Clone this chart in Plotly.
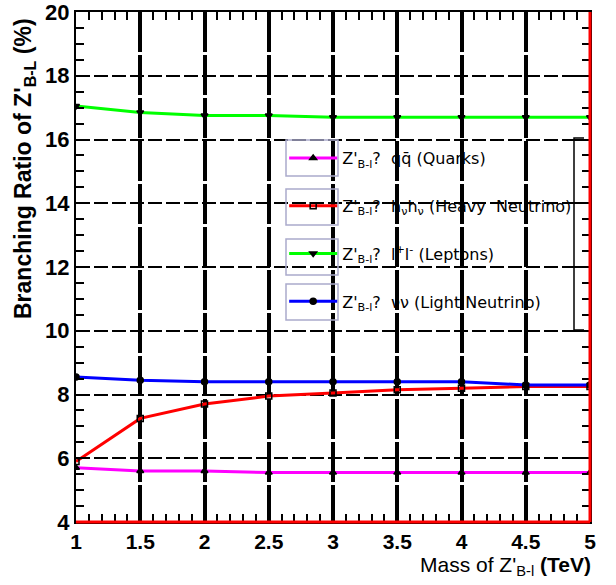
import plotly.graph_objects as go

mass = [1.0, 1.5, 2.0, 2.5, 3.0, 3.5, 4.0, 4.5, 5.0]
br_quarks = [5.7, 5.6, 5.6, 5.55, 5.55, 5.55, 5.55, 5.55, 5.55]
br_heavy_nu = [5.9, 7.25, 7.7, 7.95, 8.05, 8.15, 8.2, 8.25, 8.25]
br_leptons = [17.05, 16.85, 16.75, 16.75, 16.7, 16.7, 16.7, 16.7, 16.7]
br_light_nu = [8.55, 8.45, 8.4, 8.4, 8.4, 8.4, 8.4, 8.3, 8.3]

names = [
    "Z'<sub>B-l</sub>?  qq̄ (Quarks)",
    "Z'<sub>B-l</sub>?  h<sub>ν</sub>h<sub>ν</sub> (Heavy  Neutrino)",
    "Z'<sub>B-l</sub>?  l<sup>+</sup>l<sup>-</sup> (Leptons)",
    "Z'<sub>B-l</sub>?  νν (Light Neutrino)",
]
series = [br_quarks, br_heavy_nu, br_leptons, br_light_nu]
colors = ["#ff00ff", "#ff0000", "#00ff00", "#0000ff"]
symbols = ["triangle-up", "square-open", "triangle-down", "circle"]

fig = go.Figure()
for i, (nm, ys, c, s) in enumerate(zip(names, series, colors, symbols)):
    fig.add_trace(go.Scatter(
        x=mass, y=ys, name=nm, mode="lines+markers",
        line=dict(color=c, width=3),
        marker=dict(symbol=s, size=6, color="black",
                    line=dict(color="black", width=1.5)),
        legendgroup=str(i),
    ))

T, B = 12, 63
H = 585 - T - B
Y0 = 585 - B

font = "Liberation Sans, Arial, sans-serif"
nfont = "Liberation Sans Narrow, Liberation Sans, Arial, sans-serif"
lfont = "DejaVu Sans, sans-serif"
fig.update_layout(
    width=616, height=585,
    margin=dict(l=76, r=26, t=T, b=B),
    paper_bgcolor="white", plot_bgcolor="white",
    font=dict(family=font, color="black"),
    showlegend=True,
    legend=dict(x=0.405, y=(Y0 - 141) / H, xanchor="left", yanchor="top",
                bgcolor="rgba(0,0,0,0)", font=dict(size=16, family=lfont),
                tracegroupgap=24, itemwidth=48),
    xaxis=dict(range=[1, 5], tick0=1, dtick=0.5, showgrid=True, automargin=False,
               gridcolor="black", gridwidth=3.5, griddash="40px,3px",
               ticks="inside", ticklen=10, tickwidth=2, tickcolor="black",
               showline=True, linecolor="black", linewidth=2, mirror="ticks",
               tickfont=dict(size=21, family=font, weight="bold"),
               tickangle=0, zeroline=False, ticklabeloverflow="allow",
               minor=dict(dtick=0.1, ticks="inside", ticklen=8, tickwidth=2, tickcolor="black", showgrid=False)),
    yaxis=dict(range=[4, 20], tick0=4, dtick=2, showgrid=True, automargin=False,
               gridcolor="black", gridwidth=1.5, griddash="14px,4px",
               ticks="inside", ticklen=14, tickwidth=2, tickcolor="black",
               showline=True, linecolor="black", linewidth=2, mirror="ticks",
               tickfont=dict(size=22, family=font, weight="bold"), zeroline=False,
               ticklabeloverflow="allow",
               minor=dict(dtick=0.5, ticks="inside", ticklen=8, tickwidth=2, tickcolor="black", showgrid=False)),
)

# red bottom and right frame lines
fig.add_shape(type="line", xref="paper", yref="paper", x0=0, x1=1, y0=0, y1=0,
              line=dict(color="red", width=3))
fig.add_shape(type="line", xref="paper", yref="paper", x0=1, x1=1, y0=0, y1=1,
              line=dict(color="red", width=3))

# legend symbol frames and right bracket
ent_y = [158, 207, 257, 302]
for yc in ent_y:
    fig.add_shape(type="rect", xref="paper", yref="paper",
                  x0=(286 - 76) / 514, x1=(338 - 76) / 514,
                  y0=(Y0 - (yc + 18)) / H, y1=(Y0 - (yc - 18)) / H,
                  line=dict(color="#aaaacc", width=1.5))
fig.add_shape(type="path", xref="paper", yref="paper",
              path="M %f %f L %f %f L %f %f L %f %f" % (
                  (584 - 76) / 514, (Y0 - 138) / H,
                  (574 - 76) / 514, (Y0 - 138) / H,
                  (574 - 76) / 514, (Y0 - 330) / H,
                  (584 - 76) / 514, (Y0 - 330) / H),
              line=dict(color="black", width=1.5))

fig.add_annotation(xref="paper", yref="paper", x=1.005, y=(Y0 - 566) / H, xanchor="right", yanchor="middle",
                   showarrow=False,
                   text="Mass of Z'<sub>B-l</sub> <b>(TeV)</b>",
                   font=dict(size=21, family=nfont, color="black"))
fig.add_annotation(xref="paper", yref="paper", x=(24 - 76) / 514, y=(Y0 - 169) / H,
                   xanchor="center", yanchor="middle",
                   showarrow=False, textangle=-90,
                   text="<b>Branching Ratio of Z'<sub>B-L</sub> (%)</b>",
                   font=dict(size=23, family=font, color="black"))

fig.write_html("out.html")
